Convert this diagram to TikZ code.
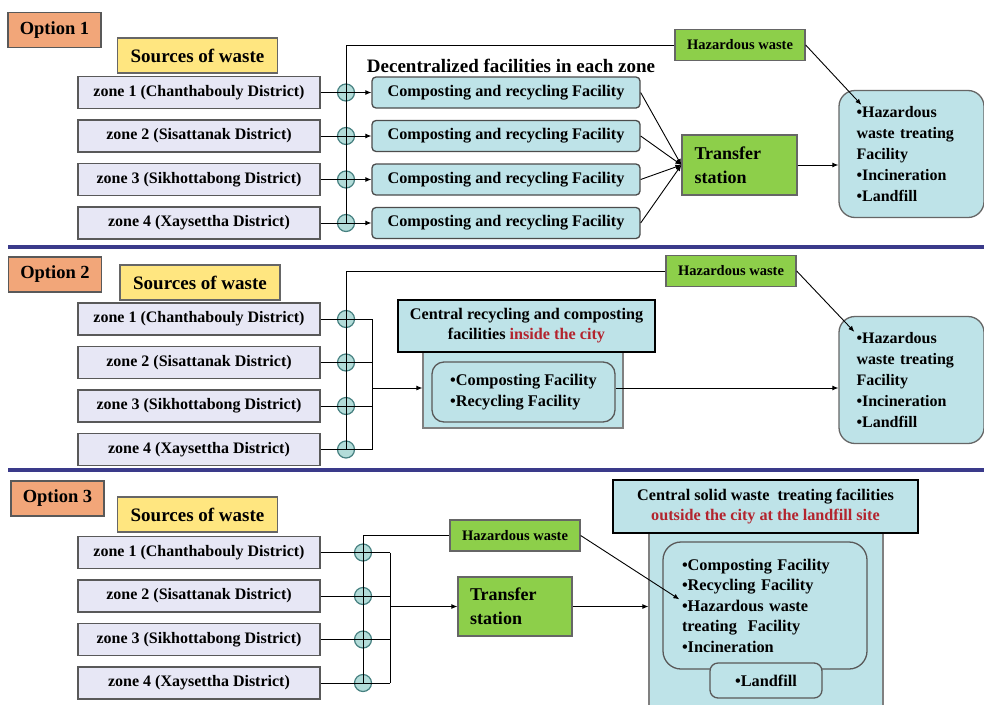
\documentclass[tikz,border=0pt]{standalone}
\usepackage{fontspec}
\setmainfont{Liberation Serif}
\usetikzlibrary{arrows.meta}
\definecolor{optorange}{HTML}{F2A679}
\definecolor{srcyellow}{HTML}{FFE680}
\definecolor{zonelilac}{HTML}{E7E7F5}
\definecolor{facteal}{HTML}{BEE3E8}
\definecolor{hzgreen}{HTML}{8DCF4A}
\definecolor{jointteal}{HTML}{B3DCD9}
\definecolor{rulenavy}{HTML}{3A3A8A}
\definecolor{txtred}{HTML}{B3242E}
\def\fs#1#2{\fontsize{#1}{#2}\selectfont\bfseries}
% zone column: prefix, y of zone 1, x of the bus
\def\zonecol#1#2#3{
	\foreach \t [count=\i] in {zone 1 (Chanthabouly District),zone 2 (Sisattanak District),zone 3 (Sikhottabong District),zone 4 (Xaysettha District)}
		\node[zonebox] (#1z\i) at (199,{#2+(\i-1)*43.5}) {\t};
	\foreach \i in {1,...,4}
		\node[joint] (#1j\i) at (#3,0 |- #1z\i) {};
}
\tikzset{
	optbox/.style={draw=black!65,fill=optorange,line width=1.3pt,minimum width=93,minimum height=35,font=\fs{18.5}{20}},
	srcbox/.style={draw=black!60,fill=srcyellow,line width=1.3pt,minimum width=160,minimum height=35,font=\fs{19}{21}},
	zonebox/.style={draw=black!65,fill=zonelilac,line width=1.3pt,minimum width=242,minimum height=32,font=\fs{16}{18}},
	facbox/.style={draw=black!70,fill=facteal,line width=1.3pt,rounded corners=4pt,minimum width=268,minimum height=31,font=\fs{16.2}{18}},
	hzbox/.style={draw=black!60,fill=hzgreen,line width=1.3pt,minimum width=130,minimum height=31,font=\fs{14.5}{16}},
	tsbox/.style={draw=black!60,fill=hzgreen,line width=1.3pt,minimum width=115,minimum height=60,text width=90,align=left,font=\fs{18}{24}},
	finbox/.style={draw=black!60,fill=facteal,line width=1.3pt,rounded corners=16pt,minimum width=145,minimum height=127,text width=110,align=left,font=\fs{16}{21}},
	titlebox/.style={draw=black,fill=facteal,line width=2.4pt,align=center,font=\fs{16.2}{20}},
	cenbox/.style={draw=black!50,fill=facteal,line width=1.2pt},
	innerbox/.style={draw=black!65,fill=facteal,line width=1.3pt,rounded corners=12pt,align=left,font=\fs{16.3}{20.5}},
	joint/.style={circle,draw=teal!45!gray,fill=jointteal,line width=1.2pt,minimum size=17,inner sep=0},
	arr/.style={-{Latex[length=6pt,width=5pt]}},
	rule/.style={draw=rulenavy,line width=3.6pt}
}
\begin{document}
\begin{tikzpicture}[x=1pt,y=-1pt,line width=0.9pt]
	\useasboundingbox[fill=white] (0,0) rectangle (984,704);
	\clip (0,0) rectangle (984,704);
	%
	\node[optbox] (aopt) at (54.5,30) {Option 1};
	\node[srcbox] (asrc) at (197.5,55.5) {Sources of waste};
	\zonecol{a}{92.5}{346}
	\node[anchor=base,font=\fs{19}{21}] (adec) at (511,72) {Decentralized facilities in each zone};
	\foreach \i in {1,...,4}
		\node[facbox] (af\i) at (506,0 |- az\i) {Composting and recycling Facility};
	\node[hzbox] (ahz) at (740,45) {Hazardous waste};
	\node[tsbox] (ats) at (739.5,165) {Transfer\\station};
	\node[finbox] (afin) at (911.5,154) {•Hazardous\\waste treating\\Facility\\•Incineration\\•Landfill};
	\coordinate (afin-in) at ([shift={(23,15)}]afin.north west);
	\foreach \i in {1,...,4} {
		\draw[arr] (az\i.east) -- (af\i.west);
		\draw[arr] (af\i.east) -- (ats.west);
	}
	\draw (aj4.center) |- (ahz.west);
	\draw[arr] (ats.east) -- (ats.east -| afin.west);
	\draw[arr] (ahz.east) -- (afin-in);
	%
	\draw[rule] (8,247) -- (984,247);
	%
	\node[optbox] (bopt) at (55,274.5) {Option 2};
	\node[srcbox] (bsrc) at (200,282.5) {Sources of waste};
	\zonecol{b}{319}{346}
	\node[hzbox] (bhz) at (731,271) {Hazardous waste};
	\node[cenbox,minimum width=200,minimum height=76] (bcen) at (523,390) {};
	\node[innerbox,minimum width=183,minimum height=60] (bin) at (523.5,392) {•Composting Facility\\•Recycling Facility};
	\node[titlebox,minimum width=257,minimum height=52] (btit) at (526.5,326) {Central recycling and composting\\facilities \textcolor{txtred}{inside the city}};
	\node[finbox] (bfin) at (911.5,380) {•Hazardous\\waste treating\\Facility\\•Incineration\\•Landfill};
	\coordinate (bjn) at (372,388);
	\coordinate (bfin-in) at ([shift={(16,16)}]bfin.north west);
	\foreach \i in {1,...,4}
		\draw (bz\i.east) -- (bjn |- bz\i);
	\draw (bjn |- bz1) -- (bjn |- bz4);
	\draw (bj4.center) |- (bhz.west);
	\draw[arr] (bjn) -- (bjn -| bcen.west);
	\draw[arr] (bjn -| bin.east) -- (bjn -| bfin.west);
	\draw[arr] (bhz.east) -- (bfin-in);
	%
	\draw[rule] (8,470) -- (984,470);
	%
	\node[optbox] (copt) at (57.5,498.5) {Option 3};
	\node[srcbox] (csrc) at (197.5,514.5) {Sources of waste};
	\zonecol{c}{552.5}{363}
	\node[hzbox] (chz) at (515,535.5) {Hazardous waste};
	\node[tsbox,minimum width=114,minimum height=59] (cts) at (515,606.5) {Transfer\\station};
	\node[cenbox,minimum width=234,minimum height=180] (ccen) at (766,623) {};
	\node[titlebox,minimum width=305,minimum height=53] (ctit) at (765.5,506.5) {Central solid waste\ \ treating facilities\\\textcolor{txtred}{outside the city at the landfill site}};
	\node[innerbox,minimum width=204,minimum height=127,text width=166,rounded corners=18pt] (cin) at (765,605.5) {•Composting Facility\\•Recycling Facility\\•Hazardous waste\\treating\ \ Facility\\•Incineration};
	\node[innerbox,minimum width=112,minimum height=35,rounded corners=8pt] (cland) at (766,680.5) {•Landfill};
	\coordinate (cjn) at (390,606.5);
	\coordinate (cin-in) at ([shift={(17,58)}]cin.north west);
	\foreach \i in {1,...,4}
		\draw (cz\i.east) -- (cjn |- cz\i);
	\draw (cjn |- cz1) -- (cjn |- cz4);
	\draw (cj4.center) |- (chz.west);
	\draw[arr] (cjn) -- (cts.west);
	\draw[arr] (cts.east) -- (cts.east -| ccen.west);
	\draw[arr] (chz.east) -- (cin-in);
\end{tikzpicture}
\end{document}
